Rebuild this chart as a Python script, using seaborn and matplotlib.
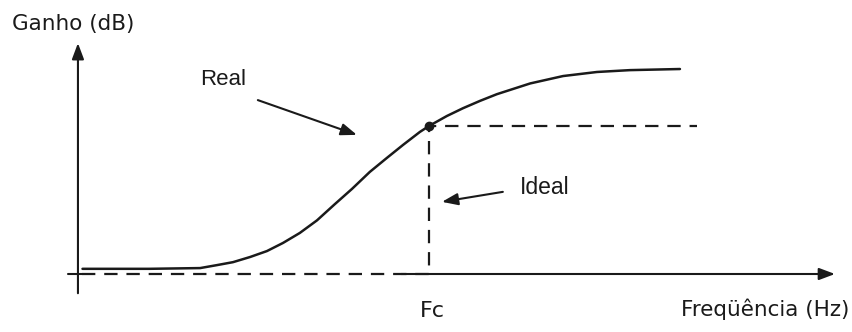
import matplotlib
matplotlib.use("Agg")
import matplotlib.pyplot as plt
import seaborn as sns
import pandas as pd

sns.set_theme(style="white")
plt.rcParams['font.family'] = ['Liberation Sans', 'DejaVu Sans']

# Real response curve (schematic units, Fc = 10)
real_freq = [0.1, 2.0, 3.46, 3.94, 4.40, 4.89, 5.37, 5.83, 6.31, 6.80, 7.3, 7.8,
             8.31, 8.80, 9.26, 9.74, 10.0, 10.51, 10.97, 11.46, 11.94, 12.89,
             13.83, 14.80, 15.74, 17.17]
real_gain = [0.14, 0.14, 0.16, 0.24, 0.32, 0.46, 0.62, 0.84, 1.11, 1.45, 1.88, 2.3,
             2.76, 3.14, 3.49, 3.84, 4.0, 4.27, 4.48, 4.68, 4.86, 5.15,
             5.35, 5.46, 5.51, 5.54]

# Ideal (brick-wall) response
ideal_freq = [0.1, 10.0, 10.0, 17.66]
ideal_gain = [0.0, 0.0, 4.0, 4.0]

fc = 10.0
fc_gain = 4.0

ink = '#1a1a1a'

fig = plt.figure(figsize=(8.53, 3.32), dpi=100)
ax = fig.add_axes([0, 0, 1, 1])
ax.set_xlim(-79 / 35, (853 - 79) / 35)
ax.set_ylim((274 - 332) / 37, 274 / 37)
ax.axis('off')

real_df = pd.DataFrame({'freq': real_freq, 'gain': real_gain})
ideal_df = pd.DataFrame({'freq': ideal_freq, 'gain': ideal_gain})

sns.lineplot(data=real_df, x='freq', y='gain', ax=ax, color=ink,
             linewidth=1.8, sort=False, estimator=None)
sns.lineplot(data=ideal_df, x='freq', y='gain', ax=ax, color=ink,
             linewidth=1.6, linestyle=(0, (6, 4)), sort=False, estimator=None)
ax.plot([fc], [fc_gain], 'o', color=ink, markersize=6)

# axes with arrows
arrow = dict(arrowstyle='-|>,head_length=0.8,head_width=0.3', color=ink, lw=1.5,
             shrinkA=0, shrinkB=0)
ax.annotate('', xy=(-0.03, 6.24), xytext=(-0.03, -0.52), arrowprops=arrow)
ax.annotate('', xy=(21.6, 0), xytext=(9.2, 0), arrowprops=arrow)
ax.plot([-0.32, 0.1], [0, 0], color=ink, lw=1.5)

# pointer arrows
ax.annotate('', xy=(7.94, 3.76), xytext=(5.11, 4.70), arrowprops=arrow)
ax.annotate('', xy=(10.37, 1.95), xytext=(12.11, 2.22), arrowprops=arrow)

# labels
ax.text(-1.9, 6.76, 'Ganho (dB)', fontsize=15.5, color=ink,
        family=['DejaVu Sans'], va='center', ha='left')
ax.text(3.46, 5.27, 'Real', fontsize=16, color=ink, va='center', ha='left')
ax.text(12.6, 2.35, 'Ideal', fontsize=16.5, color=ink, va='center', ha='left')
ax.text(10.11, -1.0, 'Fc', fontsize=16, color=ink, family=['DejaVu Sans'],
        va='center', ha='center')
ax.text(22.0, -0.95, 'Freqüência (Hz)', fontsize=15.5, color=ink,
        family=['DejaVu Sans'], va='center', ha='right')

fig.savefig('out.png', dpi=100, facecolor='white')
